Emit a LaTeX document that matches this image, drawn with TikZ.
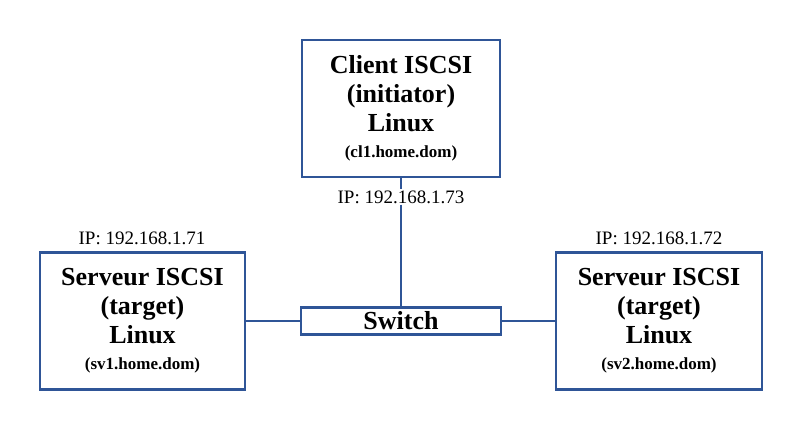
\documentclass[tikz,border=0pt]{standalone}
\usepackage{fontspec}
\setmainfont{Liberation Serif}
\newcommand{\smtxt}{\fontsize{17}{20}\selectfont}
\begin{document}
\begin{tikzpicture}[x=1pt,y=-1pt,
  box/.style={draw=boxc,line width=2.5pt,fill=white,align=center,font=\bfseries\fontsize{26}{29}\selectfont},
  ip/.style={font=\fontsize{19}{21}\selectfont,inner sep=1pt},
  link/.style={draw=boxc,line width=2.2pt}]
\definecolor{boxc}{HTML}{2F5597}
\useasboundingbox (0,0) rectangle (800,442);
\node[box,minimum width=198,minimum height=137] (cl) at (401,108.5) {Client ISCSI\\(initiator)\\Linux\\[-3pt]{\smtxt (cl1.home.dom)}};
\node[box,minimum width=205,minimum height=137] (s1) at (142.5,321) {Serveur ISCSI\\(target)\\Linux\\[-3pt]{\smtxt (sv1.home.dom)}};
\node[box,minimum width=206,minimum height=137] (s2) at (659,321) {Serveur ISCSI\\(target)\\Linux\\[-3pt]{\smtxt (sv2.home.dom)}};
\node[box,minimum width=200,minimum height=27,inner sep=0pt] (sw) at (401,321) {Switch};
\node[ip] (ip3) at (401,197) {IP: 192.168.1.73};
\node[ip] (ip1) at (142,238) {IP: 192.168.1.71};
\node[ip] (ip2) at (659,238) {IP: 192.168.1.72};
\draw[link] (cl.south) -- (ip3.north);
\draw[link] (ip3.south) -- (sw.north);
\draw[link] (s1.east) -- (sw.west);
\draw[link] (sw.east) -- (s2.west);
\end{tikzpicture}
\end{document}
